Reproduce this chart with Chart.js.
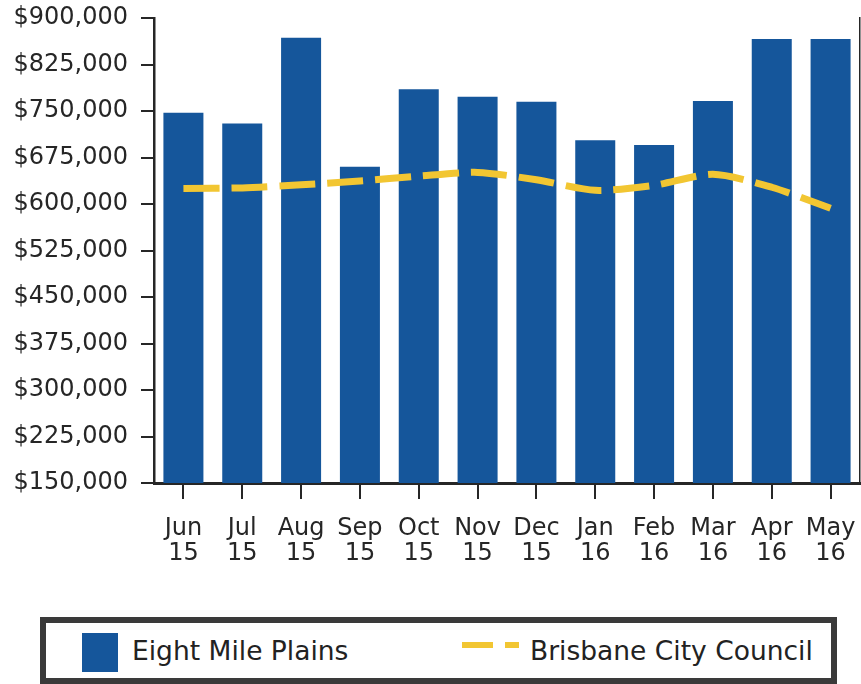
<!DOCTYPE html>
<html>
<head>
<meta charset="utf-8">
<title>Eight Mile Plains median price</title>
<script src="https://cdn.jsdelivr.net/npm/chart.js@4.4.0/dist/chart.umd.min.js"></script>
<style>
    html, body { margin: 0; padding: 0; background: #fff; }
    #wrap { position: relative; width: 861px; height: 684px; overflow: hidden; }
    #myChart { position: absolute; left: 0; top: 0; }
    #legend {
        position: absolute; left: 40px; top: 617px; width: 797px; height: 67px;
        box-sizing: border-box; border: 6px solid #3a3a3a; background: #fff;
        font-family: 'DejaVu Sans', sans-serif; font-size: 26.5px; color: #222;
    }
    #legend .sw { position: absolute; }
    #legend .txt { position: absolute; top: 12px; white-space: nowrap; line-height: normal; }
</style>
</head>
<body>
<div id="wrap">
    <canvas id="myChart" width="861" height="684"></canvas>
    <div id="legend">
        <div class="sw" id="barSwatch" style="left:36px;top:10px;width:36px;height:39px;"></div>
        <span class="txt" id="barLabel" style="left:86px;"></span>
        <div class="sw lineSwatch" style="left:416px;top:19px;width:31px;height:6px;"></div>
        <div class="sw lineSwatch" style="left:459px;top:19px;width:14px;height:6px;"></div>
        <span class="txt" id="lineLabel" style="left:484px;"></span>
    </div>
</div>
<script>
const MONTHS = [
    ['Jun', '15'], ['Jul', '15'], ['Aug', '15'], ['Sep', '15'], ['Oct', '15'], ['Nov', '15'],
    ['Dec', '15'], ['Jan', '16'], ['Feb', '16'], ['Mar', '16'], ['Apr', '16'], ['May', '16']
];
const SUBURB_NAME = 'Eight Mile Plains';
const SUBURB_PRICES = [747000, 730000, 868000, 660000, 785000, 773000, 765000, 703000, 695000, 766000, 866000, 866000];
const COUNCIL_NAME = 'Brisbane City Council';
const COUNCIL_PRICES = [625000, 626000, 631000, 637000, 645000, 651000, 639000, 622000, 630000, 648000, 627000, 593000];
const Y_MIN = 150000;
const Y_MAX = 900000;
const Y_STEP = 75000;

const BAR_COLOR = '#15569b';
const LINE_COLOR = '#f2c632';
const INK = '#262626';

function renderChart() {
    const ctx = document.getElementById('myChart');
    Chart.defaults.font.family = "'DejaVu Sans', sans-serif";
    Chart.defaults.color = INK;

    new Chart(ctx, {
        type: 'bar',
        data: {
            labels: MONTHS,
            datasets: [{
                type: 'line',
                label: COUNCIL_NAME,
                data: COUNCIL_PRICES,
                borderColor: LINE_COLOR,
                borderWidth: 7,
                borderDash: [36, 12],
                borderCapStyle: 'butt',
                pointRadius: 0,
                tension: 0.25,
                fill: false,
                order: 0
            }, {
                label: SUBURB_NAME,
                data: SUBURB_PRICES,
                backgroundColor: BAR_COLOR,
                borderWidth: 0,
                barPercentage: 0.68,
                categoryPercentage: 1,
                order: 1
            }]
        },
        options: {
            responsive: false,
            animation: false,
            devicePixelRatio: 1,
            layout: {
                padding: { top: 18, right: 1, bottom: 101, left: 0 }
            },
            plugins: {
                legend: { display: false },
                tooltip: { enabled: false }
            },
            scales: {
                x: {
                    grid: {
                        offset: false,
                        drawOnChartArea: false,
                        // long tick with a dash so only the first 14px show; keeps label gap without side padding
                        tickLength: 30,
                        tickBorderDash: [14, 60],
                        tickColor: INK,
                        color: INK,
                        lineWidth: 2
                    },
                    border: { color: INK, width: 3 },
                    ticks: {
                        padding: 3,
                        maxRotation: 0,
                        autoSkip: false,
                        font: { size: 24, lineHeight: 1.05 }
                    },
                    afterFit: (scale) => { scale.height = 100; }
                },
                y: {
                    min: Y_MIN,
                    max: Y_MAX,
                    grid: {
                        drawOnChartArea: false,
                        tickLength: 13,
                        color: INK,
                        lineWidth: 2
                    },
                    border: { color: INK, width: 2.5 },
                    ticks: {
                        stepSize: Y_STEP,
                        padding: 13,
                        font: { size: 24, lineHeight: 0.4 },
                        callback: (v) => '$' + v.toLocaleString('en-US')
                    },
                    afterFit: (scale) => { scale.width = 154; }
                },
                yRight: {
                    position: 'right',
                    min: Y_MIN,
                    max: Y_MAX,
                    grid: { drawOnChartArea: false, drawTicks: false },
                    border: { color: INK, width: 1.5 },
                    ticks: { display: false, padding: 0 },
                    afterFit: (scale) => { scale.width = 0; }
                }
            }
        }
    });

    document.getElementById('barSwatch').style.background = BAR_COLOR;
    document.getElementById('barLabel').textContent = SUBURB_NAME;
    document.getElementById('lineLabel').textContent = COUNCIL_NAME;
    document.querySelectorAll('.lineSwatch').forEach(el => { el.style.background = LINE_COLOR; });
}

renderChart();
</script>
</body>
</html>
